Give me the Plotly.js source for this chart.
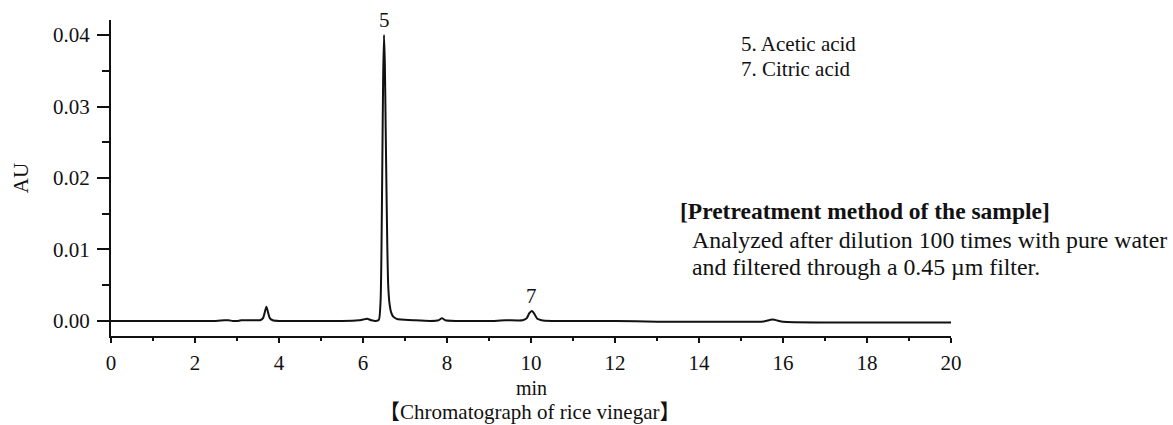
<!DOCTYPE html>
<html>
<head>
<meta charset="utf-8">
<script src="https://cdn.plot.ly/plotly-3.0.1.min.js"></script>
<style>html,body{margin:0;padding:0;background:#fff;}#chart{width:1173px;height:425px;}</style>
</head>
<body>
<div id="chart"></div>
<script>
// Retention time (min) and absorbance (AU)
const timeMin = [
  0, 0.5, 1.0, 1.5, 2.0, 2.5, 2.7, 2.8, 2.9, 3.0, 3.1, 3.3, 3.5,
  3.55, 3.62, 3.66, 3.70, 3.74, 3.78, 3.85, 4.0, 4.5, 5.0, 5.5, 5.9,
  6.0, 6.1, 6.2, 6.30, 6.38, 6.42, 6.44, 6.46, 6.48, 6.50, 6.52, 6.54,
  6.56, 6.58, 6.60, 6.63, 6.67, 6.72, 6.80, 6.90, 7.2, 7.6, 7.8, 7.88,
  7.96, 8.2, 8.6, 9.0, 9.4, 9.8, 9.90, 9.96, 10.02, 10.08, 10.15, 10.25,
  10.5, 11.0, 12.0, 13.0, 14.0, 15.0, 15.5, 15.75, 16.0, 17.0, 18.0, 19.0, 20.0
];
const absorbanceAU = [
  0.0000, 0.0000, 0.0000, 0.0000, 0.0000, 0.0000, 0.0001, 0.0001, 0.0000, 0.0000, 0.0001, 0.0001, 0.0001,
  0.0001, 0.0004, 0.0012, 0.0020, 0.0012, 0.0004, 0.0001, 0.0000, 0.0000, 0.0000, 0.0000, 0.0001,
  0.0002, 0.0003, 0.0001, 0.0000, 0.0002, 0.0030, 0.0100, 0.0220, 0.0340, 0.0400, 0.0360, 0.0270,
  0.0180, 0.0100, 0.0050, 0.0025, 0.0012, 0.0006, 0.0003, 0.0002, 0.0001, 0.0000, 0.0001, 0.0004,
  0.0001, 0.0000, 0.0000, 0.0000, 0.0001, 0.0001, 0.0004, 0.0011, 0.0014, 0.0010, 0.0003, 0.0001,
  0.0000, 0.0000, 0.0000, -0.0001, -0.0001, -0.0001, -0.0001, 0.0002, -0.0001, -0.0002, -0.0002, -0.0002, -0.0002
];

const peakLabels = ["5", "7"];
const peakTimes = [6.50, 10.02];
const peakHeights = [0.0400, 0.0014];

const xAxisLabel = "min";
const yAxisLabel = "AU";
const compoundList = ["5. Acetic acid", "7. Citric acid"];
const pretreatTitle = "[Pretreatment method of the sample]";
const pretreatLines = ["Analyzed after dilution 100 times with pure water", "and filtered through a 0.45 \u00b5m filter."];
const caption = "\u3010Chromatograph of rice vinegar\u3011";

const serif = "Liberation Serif, Times New Roman, serif";
const capFont = "Liberation Serif, Noto Sans CJK JP, serif";

const trace = {
  x: timeMin, y: absorbanceAU, type: "scatter", mode: "lines",
  line: {color: "#111", width: 2, shape: "spline", smoothing: 0.5},
  hoverinfo: "x+y", showlegend: false
};

function px2paperX(px) { return (px - 111) / 840; }
function px2paperY(py) { return (336 - py) / 316; }

const annotations = [];
peakLabels.forEach((lab, i) => {
  annotations.push({x: peakTimes[i], y: peakHeights[i], xref: "x", yref: "y", text: lab,
    showarrow: false, yanchor: "bottom", yshift: 1, font: {family: serif, size: 21, color: "#111"}});
});
compoundList.forEach((t, i) => {
  annotations.push({x: px2paperX(739), y: px2paperY(44 + i * 25), xref: "paper", yref: "paper", text: t,
    showarrow: false, xanchor: "left", yanchor: "middle", font: {family: serif, size: 21, color: "#111"}});
});
annotations.push({x: px2paperX(678), y: px2paperY(211), xref: "paper", yref: "paper",
  text: "<b>" + pretreatTitle + "</b>", showarrow: false, xanchor: "left", yanchor: "middle",
  font: {family: serif, size: 23.5, color: "#111"}});
pretreatLines.forEach((t, i) => {
  annotations.push({x: px2paperX(690), y: px2paperY(240 + i * 27), xref: "paper", yref: "paper",
    text: t, showarrow: false, xanchor: "left", yanchor: "middle",
    font: {family: serif, size: 23.8, color: "#111"}});
});
// x-axis label "min" placed directly under the tick labels
annotations.push({x: 0.5, y: px2paperY(388), xref: "paper", yref: "paper",
  text: xAxisLabel, showarrow: false, xanchor: "center", yanchor: "middle",
  font: {family: serif, size: 20, color: "#111"}});
annotations.push({x: px2paperX(530), y: px2paperY(412), xref: "paper", yref: "paper",
  text: caption, showarrow: false, xanchor: "center", yanchor: "middle",
  font: {family: capFont, size: 21, color: "#111"}});

const layout = {
  width: 1173, height: 425,
  margin: {l: 111, r: 222, t: 20, b: 89},
  paper_bgcolor: "#fff", plot_bgcolor: "#fff",
  font: {family: serif, size: 21, color: "#111"},
  xaxis: {
    range: [0, 20], dtick: 2, tick0: 0, showgrid: false, zeroline: false,
    showline: true, linewidth: 2, linecolor: "#111",
    ticks: "outside", ticklen: 5, tickwidth: 2, tickcolor: "#111",
    minor: {dtick: 1, ticks: "outside", ticklen: 3, tickwidth: 2, tickcolor: "#111", showgrid: false},
    ticklabelstandoff: 2,
    tickfont: {family: serif, size: 21, color: "#111"}
  },
  yaxis: {
    range: [-0.0021, 0.0421], dtick: 0.01, tick0: 0, tickformat: ".2f",
    showgrid: false, zeroline: false,
    showline: true, linewidth: 2, linecolor: "#111",
    ticks: "outside", ticklen: 12, tickwidth: 2, tickcolor: "#111",
    minor: {dtick: 0.005, ticks: "outside", ticklen: 7, tickwidth: 2, tickcolor: "#111", showgrid: false},
    ticklabelstandoff: 3,
    tickfont: {family: serif, size: 21, color: "#111"},
    title: {text: yAxisLabel, standoff: 19, font: {family: serif, size: 21, color: "#111"}}
  },
  annotations: annotations
};

Plotly.newPlot("chart", [trace], layout, {displayModeBar: false, staticPlot: true});
</script>
</body>
</html>
